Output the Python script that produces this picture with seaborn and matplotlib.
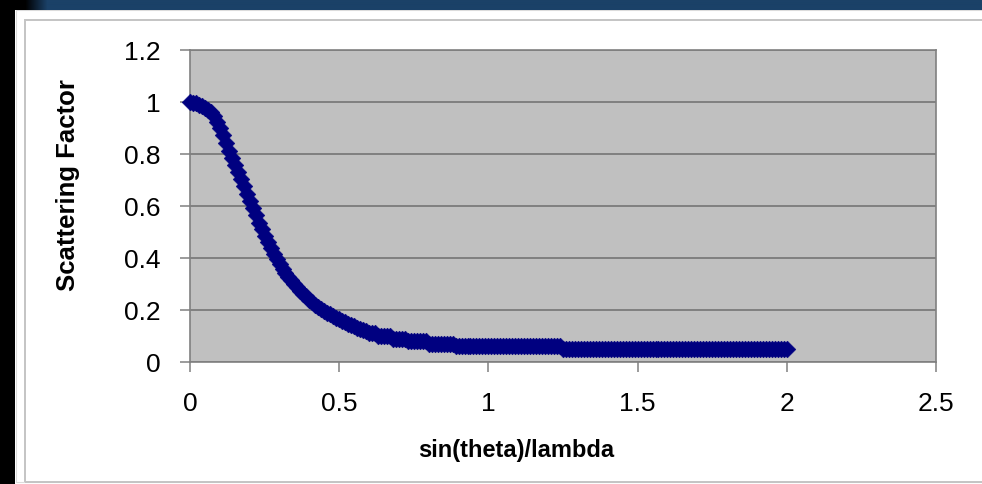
import numpy as np
import pandas as pd
import matplotlib
matplotlib.use("Agg")
import matplotlib.pyplot as plt
from matplotlib.patches import Rectangle
import seaborn as sns

# sin(theta)/lambda sampled every 0.01 from 0 to 2
sin_theta_over_lambda = np.round(np.arange(0, 201) * 0.01, 2)

# normalised atomic scattering factor at each sample
scattering_factor = [
    1.000, 0.998, 0.995, 0.990, 0.985, 0.978, 0.970, 0.960, 0.945, 0.925,
    0.900, 0.872, 0.842, 0.812, 0.783, 0.757, 0.732, 0.705, 0.676, 0.648,
    0.620, 0.592, 0.564, 0.536, 0.510, 0.484, 0.460, 0.437, 0.416, 0.396,
    0.377, 0.359, 0.343, 0.328, 0.314, 0.300, 0.287, 0.275, 0.263, 0.252,
    0.240, 0.230, 0.221, 0.213, 0.205, 0.198, 0.190, 0.183, 0.176, 0.170,
    0.164, 0.158, 0.152, 0.147, 0.142, 0.137, 0.132, 0.127, 0.122, 0.118,
    0.11, 0.11, 0.11, 0.10, 0.10, 0.10, 0.10, 0.10, 0.09, 0.09,
    0.09, 0.09, 0.09, 0.08, 0.08, 0.08, 0.08, 0.08, 0.08, 0.08,
    0.07, 0.07, 0.07, 0.07, 0.07, 0.07, 0.07, 0.07, 0.07, 0.06,
    0.06, 0.06, 0.06, 0.06, 0.06, 0.06, 0.06, 0.06, 0.06, 0.06,
    0.06, 0.06, 0.06, 0.06, 0.06, 0.06, 0.06, 0.06, 0.06, 0.06,
    0.06, 0.06, 0.06, 0.06, 0.06, 0.06, 0.06, 0.06, 0.06, 0.06,
    0.06, 0.06, 0.06, 0.06, 0.06, 0.05, 0.05, 0.05, 0.05, 0.05,
    0.05, 0.05, 0.05, 0.05, 0.05, 0.05, 0.05, 0.05, 0.05, 0.05,
    0.05, 0.05, 0.05, 0.05, 0.05, 0.05, 0.05, 0.05, 0.05, 0.05,
    0.05, 0.05, 0.05, 0.05, 0.05, 0.05, 0.05, 0.05, 0.05, 0.05,
    0.05, 0.05, 0.05, 0.05, 0.05, 0.05, 0.05, 0.05, 0.05, 0.05,
    0.05, 0.05, 0.05, 0.05, 0.05, 0.05, 0.05, 0.05, 0.05, 0.05,
    0.05, 0.05, 0.05, 0.05, 0.05, 0.05, 0.05, 0.05, 0.05, 0.05,
    0.05, 0.05, 0.05, 0.05, 0.05, 0.05, 0.05, 0.05, 0.05, 0.05,
    0.05,
]

x_ticks = [0, 0.5, 1, 1.5, 2, 2.5]
x_tick_labels = ["0", "0.5", "1", "1.5", "2", "2.5"]
y_ticks = [0, 0.2, 0.4, 0.6, 0.8, 1.0, 1.2]
y_tick_labels = ["0", "0.2", "0.4", "0.6", "0.8", "1", "1.2"]

df = pd.DataFrame({"s": sin_theta_over_lambda, "f": scattering_factor})

sns.set_style("white")
plt.rcParams["font.family"] = ["Liberation Sans", "DejaVu Sans"]

W, H = 982, 485
fig = plt.figure(figsize=(W / 100, H / 100), dpi=100)
fig.patch.set_facecolor("white")

def fx(px):
    return px / W

def fy(py):
    return 1 - py / H

# slide frame: dark strip on the left, blue header band on top
fig.patches.append(Rectangle((0, 0), fx(15), 1, transform=fig.transFigure,
                             facecolor="black", edgecolor="none", zorder=0))
band = fig.add_axes([0, fy(11), 1, 11 / H], zorder=1)
grad = np.linspace(0, 1, W)
ramp = np.clip((grad * W - 25) / 22, 0, 1)
dark = np.array([0.0, 0.0, 0.0])
blue = np.array([0x1b, 0x41, 0x68]) / 255
img = dark[None, :] * (1 - ramp[:, None]) + blue[None, :] * ramp[:, None]
band.imshow(img[None, :, :], aspect="auto", extent=[0, 1, 0, 1])
band.set_axis_off()

# white slide area edge and chart-area border
fig.patches.append(Rectangle((fx(16), fy(483)), 1, fy(11) - fy(483),
                             transform=fig.transFigure, facecolor="none",
                             edgecolor="#dcdcdc", lw=0.8, zorder=0))
fig.patches.append(Rectangle((fx(25), fy(483)), 1, fy(21) - fy(483),
                             transform=fig.transFigure, facecolor="none",
                             edgecolor="#c4c4c4", lw=1.4, zorder=0))

left, right, top, bottom = 190, 936, 51, 363
ax = fig.add_axes([fx(left), fy(bottom), fx(right - left), fy(top) - fy(bottom)])
ax.set_facecolor("#c0c0c0")

sns.scatterplot(data=df, x="s", y="f", marker="D", s=72, color="#000080",
                edgecolor="#000080", linewidth=0.4, ax=ax, zorder=3, clip_on=False)

ax.set_xlim(0, 2.5)
ax.set_ylim(0, 1.2)
ax.set_xticks(x_ticks)
ax.set_xticklabels(x_tick_labels)
ax.set_yticks(y_ticks)
ax.set_yticklabels(y_tick_labels)
ax.yaxis.grid(True, color="#808080", lw=1.4)
ax.xaxis.grid(False)
ax.set_axisbelow(True)
for sp in ax.spines.values():
    sp.set_color("#808080")
    sp.set_linewidth(1.2)
    sp.set_visible(True)
ax.tick_params(axis="both", direction="out", length=7, width=1.1,
               color="#808080", labelsize=19, labelcolor="black")
ax.tick_params(axis="x", pad=14, bottom=True)
ax.tick_params(axis="y", pad=14, left=True)

ax.set_xlabel("sin(theta)/lambda", fontsize=17, fontweight="bold",
              va="center", color="black")
ax.set_ylabel("Scattering Factor", fontsize=18.5, fontweight="bold",
              va="center", color="black")
ax.xaxis.set_label_coords((516 - left) / (right - left), -(451 - bottom) / (bottom - top))
ax.yaxis.set_label_coords(-(left - 68) / (right - left), (bottom - 185) / (bottom - top))

fig.savefig("out.png", dpi=100)
